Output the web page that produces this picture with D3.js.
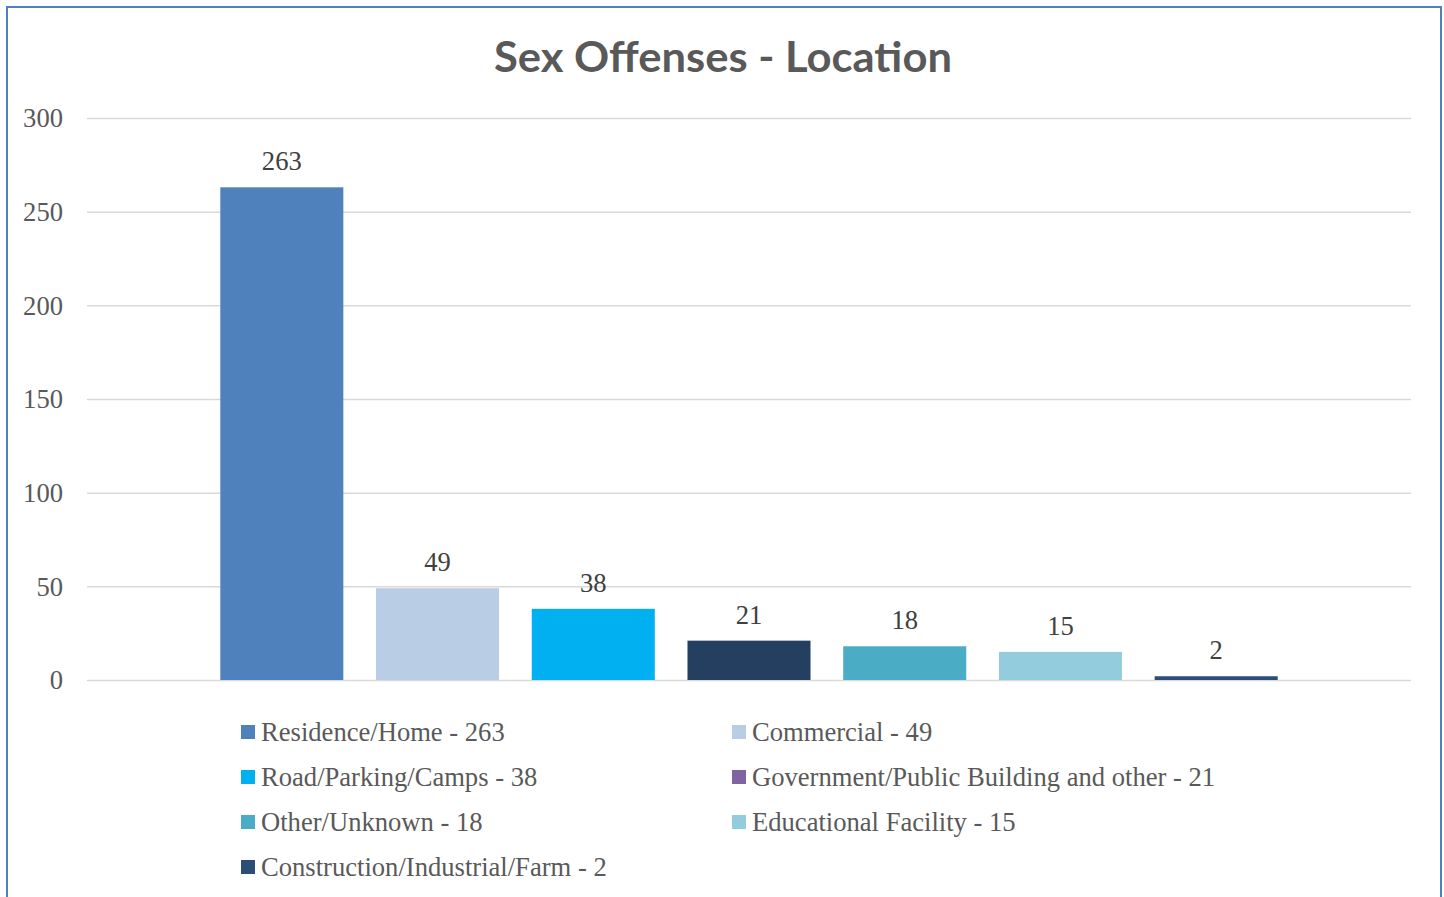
<!DOCTYPE html>
<html><head><meta charset="utf-8">
<script src="https://cdn.jsdelivr.net/npm/d3@7"></script>
<style>html,body{margin:0;padding:0;background:#fff;overflow:hidden}</style>
</head><body>
<svg id="c" width="1444" height="897"></svg>
<script>
const categories = ["Residence/Home","Commercial","Road/Parking/Camps","Government/Public Building and other","Other/Unknown","Educational Facility","Construction/Industrial/Farm"];
const values = [263,49,38,21,18,15,2];
const barColors = ["#4f81bd","#b9cde5","#00b0f0","#243f60","#4bacc6","#93cddd","#2c4d75"];
const legendColors = ["#4f81bd","#b9cde5","#00b0f0","#8064a2","#4bacc6","#93cddd","#2c4d75"];
const yTicks = [0,50,100,150,200,250,300];
const title = "Sex Offenses - Location";

(function(){
const svg = d3.select("#c");
const serif = "'Liberation Serif','Times New Roman',serif";
const fs = 26.6;
svg.append("rect").attr("x",7).attr("y",7).attr("width",1434).attr("height",900)
  .attr("fill","#fff").attr("stroke","#4f81bd").attr("stroke-width",2);

const pL=87,pR=1411,pT=118,pB=680;
const y = d3.scaleLinear().domain([0,300]).range([pB,pT]);
const x = d3.scaleBand().domain(categories).range([pL,pR]).paddingInner(0.21).paddingOuter(0.856);

svg.append("text").attr("x",723).attr("y",72).attr("text-anchor","middle")
  .attr("font-family","Lato, 'Open Sans', sans-serif").attr("font-weight","bold")
  .attr("font-size",42).attr("fill","#595959")
  .attr("textLength",458).attr("lengthAdjust","spacingAndGlyphs").text(title);

const yAxis = d3.axisLeft(y).tickValues(yTicks).tickSize(-(pR-pL)).tickPadding(24);
const g = svg.append("g").attr("transform",`translate(${pL},0)`).call(yAxis);
g.select(".domain").remove();
g.selectAll(".tick line").attr("stroke","#d9d9d9").attr("stroke-width",1.5);
g.selectAll(".tick text").attr("font-family",serif)
  .attr("font-size",fs).attr("fill","#595959").attr("dy","0.33em");

svg.append("g").selectAll("rect").data(values).join("rect")
  .attr("x",(d,i)=>x(categories[i])).attr("width",x.bandwidth())
  .attr("y",d=>y(d)).attr("height",d=>y(0)-y(d))
  .attr("fill",(d,i)=>barColors[i]);

svg.append("g").selectAll("text").data(values).join("text")
  .attr("x",(d,i)=>x(categories[i])+x.bandwidth()/2).attr("y",d=>y(d)-17)
  .attr("text-anchor","middle").attr("font-family",serif)
  .attr("font-size",fs).attr("fill","#404040").text(d=>d);

const leg = svg.append("g");
categories.forEach((c,i)=>{
  const col=i%2,row=Math.floor(i/2);
  const lx = col===0?241:732, ly = 732+row*45;
  leg.append("rect").attr("x",lx).attr("y",ly-7).attr("width",14).attr("height",14).attr("fill",legendColors[i]);
  leg.append("text").attr("x",lx+20).attr("y",ly).attr("dy","0.35em")
    .attr("font-family",serif).attr("font-size",fs)
    .attr("fill","#595959").text(c+" - "+values[i]);
});
})();
</script>
</body></html>
